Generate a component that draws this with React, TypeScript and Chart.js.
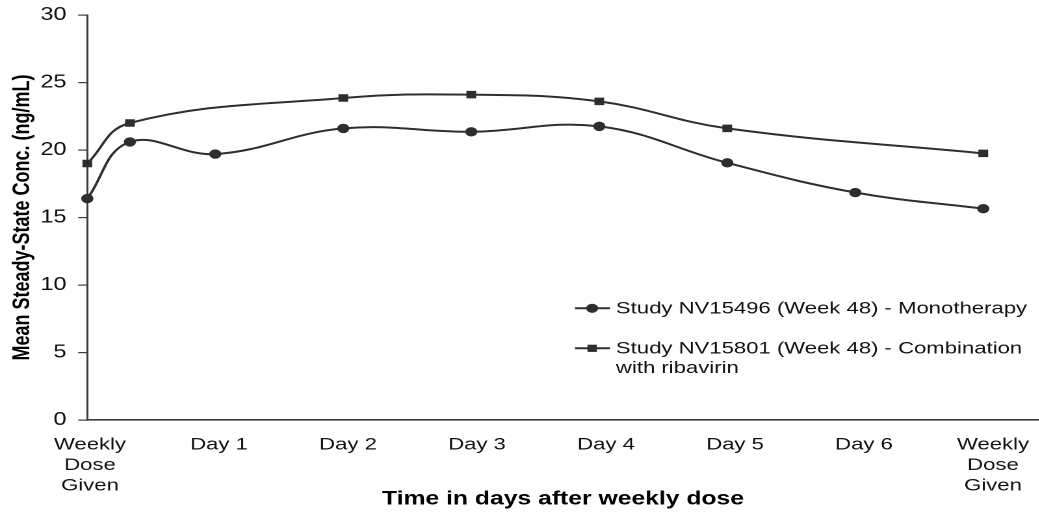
import React, { useEffect, useRef } from 'react';
import { Chart, registerables } from 'chart.js';

Chart.register(...registerables);

// ---- data ----
const MONO_X = [0, 0.333, 1, 2, 3, 4, 5, 6, 7];
const MONO_Y = [16.4, 20.6, 19.7, 21.6, 21.35, 21.75, 19.05, 16.85, 15.65];
const COMBO_X = [0, 0.333, 2, 3, 4, 5, 7];
const COMBO_Y = [19.0, 22.0, 23.85, 24.1, 23.6, 21.6, 19.75];
const TICK_POS = [0, 1, 2, 3, 4, 5, 6, 7];
const TICK_LABELS: (string | string[])[] = [
  ['Weekly', 'Dose', 'Given'],
  'Day 1',
  'Day 2',
  'Day 3',
  'Day 4',
  'Day 5',
  'Day 6',
  ['Weekly', 'Dose', 'Given'],
];
const SERIES_NAMES = [
  'Study NV15496 (Week 48) - Monotherapy',
  'Study NV15801 (Week 48) - Combination with ribavirin',
];
const LEGEND_LINES = [
  ['Study NV15496 (Week 48) - Monotherapy'],
  ['Study NV15801 (Week 48) - Combination', 'with ribavirin'],
];
const Y_TITLE = 'Mean Steady-State Conc. (ng/mL)';
const X_TITLE = 'Time in days after weekly dose';

// ---- style ----
const STRETCH = 1.3;
const W = 799;
const H = 513;
const INK = '#2e2e2e';
const AXIS = '#3c3c3c';
const FONT = "'Liberation Sans', Arial, Helvetica, sans-serif";

const legendPlugin = {
  id: 'wrappedLegend',
  afterDraw(chart: any) {
    const ctx = chart.ctx as CanvasRenderingContext2D;
    const entries = [
      { y: 308.3, style: 'circle' },
      { y: 348.3, style: 'rect' },
    ];
    ctx.save();
    entries.forEach((e, i) => {
      ctx.strokeStyle = INK;
      ctx.fillStyle = INK;
      ctx.lineWidth = 2;
      ctx.beginPath();
      ctx.moveTo(442.3, e.y);
      ctx.lineTo(469.2, e.y);
      ctx.stroke();
      ctx.beginPath();
      if (e.style === 'circle') {
        ctx.arc(455.5, e.y, 4.6, 0, Math.PI * 2);
      } else {
        ctx.rect(455.5 - 3.6, e.y - 3.6, 7.2, 7.2);
      }
      ctx.fill();
      ctx.fillStyle = '#111';
      ctx.font = `17px ${FONT}`;
      ctx.textAlign = 'left';
      ctx.textBaseline = 'middle';
      LEGEND_LINES[i].forEach((t, j) => {
        ctx.fillText(t, 473.8, e.y + 0.7 + j * 19.2);
      });
    });
    ctx.restore();
  },
};

export default function App() {
  const ref = useRef<HTMLCanvasElement | null>(null);

  useEffect(() => {
    document.body.style.margin = '0';
    document.body.style.overflow = 'hidden';
    if (!ref.current) return;
    const chart = new Chart(ref.current, {
      type: 'line',
      data: {
        datasets: [
          {
            label: SERIES_NAMES[0],
            data: MONO_X.map((x, i) => ({ x, y: MONO_Y[i] })),
            borderColor: INK,
            backgroundColor: INK,
            borderWidth: 2,
            tension: 0.4,
            pointStyle: 'circle',
            pointRadius: 4.2,
            pointBorderWidth: 1,
            pointBackgroundColor: INK,
            pointBorderColor: INK,
            clip: false,
            xAxisID: 'x',
            yAxisID: 'y',
          },
          {
            label: SERIES_NAMES[1],
            data: COMBO_X.map((x, i) => ({ x, y: COMBO_Y[i] })),
            borderColor: INK,
            backgroundColor: INK,
            borderWidth: 2,
            tension: 0.4,
            pointStyle: 'rect',
            pointRadius: 4.6,
            pointBorderWidth: 1,
            pointBackgroundColor: INK,
            pointBorderColor: INK,
            clip: false,
            xAxisID: 'x',
            yAxisID: 'y',
          },
        ],
      },
      options: {
        animation: false,
        responsive: true,
        maintainAspectRatio: false,
        devicePixelRatio: 2,
        layout: { autoPadding: false, padding: { top: 15, left: 0, right: 0, bottom: 0 } },
        plugins: {
          legend: { display: false },
          tooltip: { enabled: false },
          title: { display: false },
        },
        scales: {
          x: {
            type: 'linear',
            display: false,
            min: 0,
            max: 7.433,
          },
          xl: {
            type: 'linear',
            position: 'bottom',
            min: -0.0209,
            max: 7.354,
            grid: { display: false, drawTicks: false, tickLength: 0 },
            border: { display: true, color: AXIS, width: 1.6 },
            afterBuildTicks: (scale: any) => {
              scale.ticks = TICK_POS.map((v) => ({ value: v }));
            },
            afterFit: (scale: any) => {
              scale.height = 93;
              scale.paddingLeft = 0;
              scale.paddingRight = 0;
            },
            ticks: {
              autoSkip: false,
              maxRotation: 0,
              minRotation: 0,
              padding: 14.8,
              color: '#111',
              font: { family: FONT, size: 17, lineHeight: 1.2 },
              callback: (_v: any, i: number) => TICK_LABELS[i],
            },
            title: {
              display: true,
              text: X_TITLE,
              color: '#000',
              font: { family: FONT, size: 19, weight: 'bold', lineHeight: 1.2 },
              padding: { top: 0, bottom: 2.5 },
            },
          },
          y: {
            type: 'linear',
            position: 'left',
            min: 0,
            max: 30,
            ticks: {
              stepSize: 5,
              padding: 9,
              color: '#111',
              font: { family: FONT, size: 18 },
            },
            grid: {
              display: true,
              drawOnChartArea: false,
              drawTicks: true,
              tickLength: 7,
              color: AXIS,
              lineWidth: 1.2,
            },
            border: { display: true, color: AXIS, width: 1.5 },
            afterFit: (scale: any) => {
              scale.width = 67.15;
              scale.paddingTop = 0;
              scale.paddingBottom = 0;
            },
            title: {
              display: true,
              text: Y_TITLE,
              color: '#000',
              font: { family: FONT, size: 18, weight: 'bold', lineHeight: 1.2 },
              padding: { top: 6.5, bottom: 0 },
            },
          },
        },
      } as any,
      plugins: [legendPlugin],
    });
    return () => chart.destroy();
  }, []);

  return (
    <div
      style={{
        position: 'absolute',
        left: 0,
        top: 0,
        width: W,
        height: H,
        transform: `scaleX(${STRETCH})`,
        transformOrigin: '0 0',
      }}
    >
      <canvas ref={ref} style={{ display: 'block' }} />
    </div>
  );
}
